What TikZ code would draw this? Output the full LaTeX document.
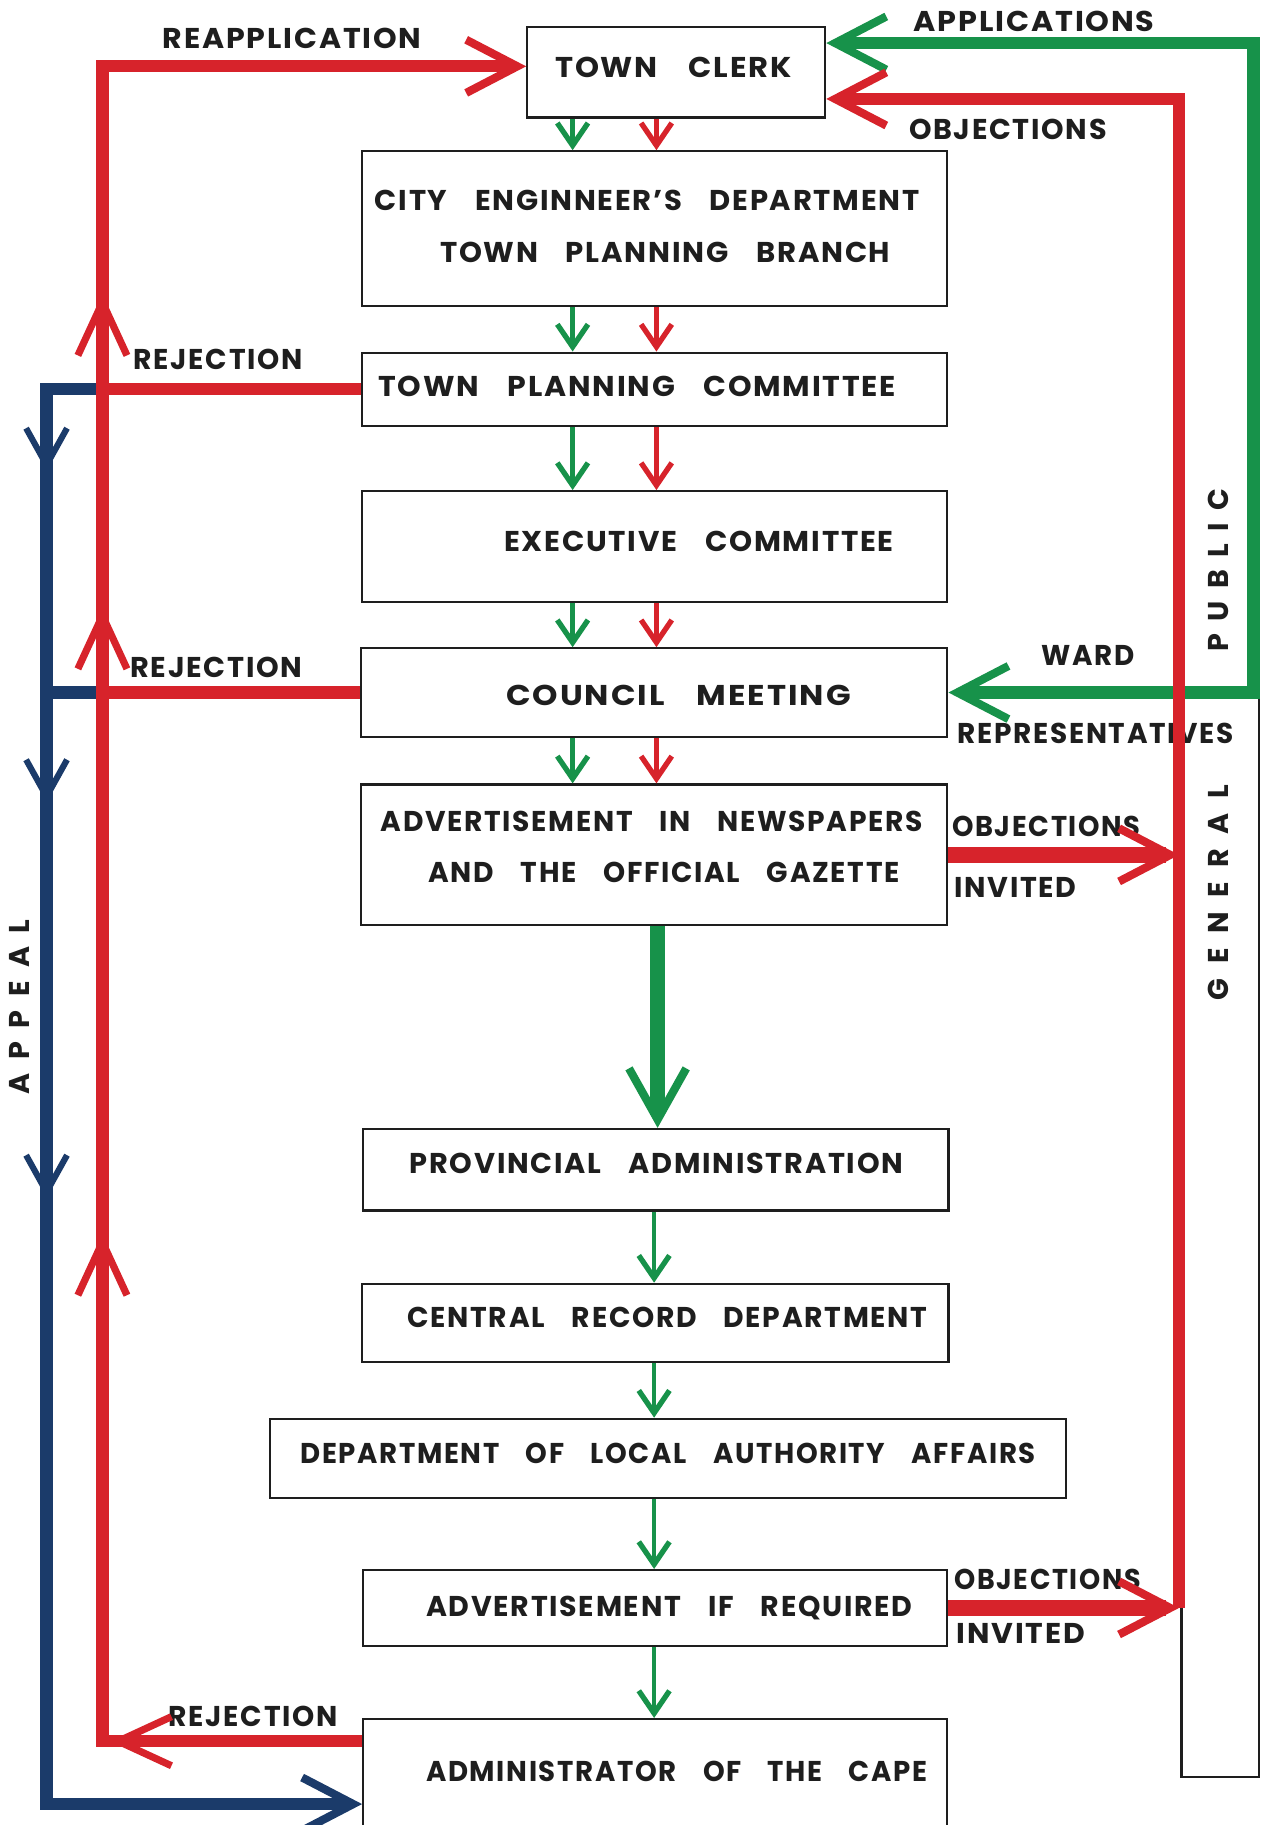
\documentclass[tikz,border=0pt]{standalone}
\usepackage{fontspec}
\setmainfont{Poppins}[LetterSpace=6, WordSpace=3.5]
\usepackage{graphicx}
\usetikzlibrary{arrows.meta, decorations.markings}
\definecolor{cred}{HTML}{D7232B}
\definecolor{cgreen}{HTML}{17924A}
\definecolor{cblue}{HTML}{1B3B6A}
\definecolor{cink}{HTML}{1E1E1E}
\newcommand\fw[2]{\resizebox{\dimexpr0.569pt*#1\relax}{\height}{#2}}
\newcommand\vspread[2]{\makebox[\dimexpr0.569pt*#1\relax][s]{#2}}
\tikzset{
  bigbarb/.tip={Straight Barb[length=25pt,width=26pt,line width=4pt]},
  chevR/.tip={Straight Barb[length=26pt,width=24pt,line width=3.5pt]},
  chevB/.tip={Straight Barb[length=18pt,width=20pt,line width=3pt]},
  smallbarb/.tip={Straight Barb[length=11pt,width=15pt,line width=2.6pt]},
  thickbarb/.tip={Straight Barb[length=25pt,width=28pt,line width=4pt]},
  box/.style={draw=cink, line width=1.1pt, fill=white, inner sep=0pt},
  txt/.style={inner sep=0pt, text=cink, text height=9.6pt, text depth=0pt,
    font=\fontsize{14}{16}\selectfont\bfseries},
  redl/.style={draw=cred, line width=6pt},
  redthick/.style={draw=cred, line width=7.5pt},
  bluel/.style={draw=cblue, line width=6pt},
  greenl/.style={draw=cgreen, line width=6pt},
  gsmall/.style={draw=cgreen, line width=2.2pt, -{smallbarb}},
  rsmall/.style={draw=cred, line width=2.2pt, -{smallbarb}},
  gthick/.style={draw=cgreen, line width=7pt, -{thickbarb}},
}
\begin{document}
\begin{tikzpicture}[x=0.02cm, y=-0.02cm]
\useasboundingbox (0,0) rectangle (1089,1568);
\clip (0,0) rectangle (1089,1568);

% ---------- boxes ----------
\node[box, minimum width=5.12cm, minimum height=1.56cm] (tc) at (581,62) {};
\node[box, minimum width=10.06cm, minimum height=2.66cm] (ce) at (562.5,196.5) {};
\node[box, minimum width=10.06cm, minimum height=1.26cm] (tpc) at (562.5,334.5) {};
\node[box, minimum width=10.06cm, minimum height=1.9cm] (ex) at (562.5,469.5) {};
\node[box, minimum width=10.08cm, minimum height=1.52cm] (cm) at (562,595) {};
\node[box, minimum width=10.08cm, minimum height=2.42cm] (adv) at (562,734.5) {};
\node[box, minimum width=10.06cm, minimum height=1.4cm] (prov) at (563.5,1005) {};
\node[box, minimum width=10.08cm, minimum height=1.34cm] (crd) at (563,1136.5) {};
\node[box, minimum width=13.68cm, minimum height=1.36cm] (dla) at (574,1253) {};
\node[box, minimum width=10.04cm, minimum height=1.3cm] (air) at (563,1381.5) {};
\node[box, minimum width=10.04cm, minimum height=2.46cm] (adm) at (563,1538.5) {};
\node[box, minimum width=1.34cm, minimum height=18.6cm] (gp) at (1048.5,1062) {};

% ---------- box texts ----------
\node[txt] (tc-t) at (578.5,58) {\fw{203}{TOWN\hspace{1em}CLERK}};
\node[txt] (ce-t1) at (556,172) {\fw{468}{CITY ENGINNEER\char"0027 S DEPARTMENT}};
\node[txt] (ce-t2) at (571.5,217) {\fw{387}{TOWN PLANNING BRANCH}};
\node[txt] (tpc-t) at (547.5,332) {\fw{445}{TOWN PLANNING COMMITTEE}};
\node[txt] (ex-t) at (600.5,465) {\fw{335}{EXECUTIVE COMMITTEE}};
\node[txt] (cm-t) at (583,598) {\fw{296}{COUNCIL\hspace{1em}MEETING}};
\node[txt] (adv-t1) at (560,706) {\fw{466}{ADVERTISEMENT IN NEWSPAPERS}};
\node[txt] (adv-t2) at (570.5,750) {\fw{405}{AND THE OFFICIAL GAZETTE}};
\node[txt] (prov-t) at (564,1000) {\fw{424}{PROVINCIAL ADMINISTRATION}};
\node[txt] (crd-t) at (573.5,1132) {\fw{447}{CENTRAL RECORD DEPARTMENT}};
\node[txt] (dla-t) at (574,1249) {\fw{632}{DEPARTMENT OF LOCAL AUTHORITY AFFAIRS}};
\node[txt] (air-t) at (575,1380) {\fw{418}{ADVERTISEMENT IF REQUIRED}};
\node[txt] (adm-t) at (581.5,1522) {\fw{431}{ADMINISTRATOR OF THE CAPE}};

% ---------- labels ----------
\node[txt] (l-reapp) at (251,33) {\fw{222}{REAPPLICATION}};
\node[txt] (l-app) at (888.5,19) {\fw{207}{APPLICATIONS}};
\node[txt] (l-obj) at (866,111) {\fw{170}{OBJECTIONS}};
\node[txt] (l-rej1) at (187.5,309) {\fw{145}{REJECTION}};
\node[txt] (l-rej2) at (186,574) {\fw{148}{REJECTION}};
\node[txt] (l-rej3) at (217.5,1475) {\fw{145}{REJECTION}};
\node[txt] (l-ward) at (935,563) {\fw{80}{WARD}};
\node[txt] (l-rep) at (941.5,630) {\fw{237}{REPRESENTATIVES}};
\node[txt] (l-obj1) at (899,710) {\fw{162}{OBJECTIONS}};
\node[txt] (l-inv1) at (872.5,763) {\fw{105}{INVITED}};
\node[txt] (l-obj2) at (900,1357) {\fw{160}{OBJECTIONS}};
\node[txt] (l-inv2) at (877,1404) {\fw{110}{INVITED}};
\node[txt, rotate=90] (l-public) at (1047,490) {\vspread{140}{P\hfill U\hfill B\hfill L\hfill I\hfill C}};
\node[txt, rotate=90] (l-general) at (1047,767) {\vspread{185}{G\hfill E\hfill N\hfill E\hfill R\hfill A\hfill L}};
\node[txt, rotate=90] (l-appeal) at (17,865) {\vspread{150}{A\hfill P\hfill P\hfill E\hfill A\hfill L}};

% ---------- helper coordinates ----------
\coordinate (gx) at (492,0);
\coordinate (rx) at (564,0);
\coordinate (mx) at (562,0);
\coordinate (tx) at (565,0);
\coordinate (rA) at (88,1496);
\coordinate (rB) at (88,57);
\coordinate (bB) at (40,1550);
\coordinate (rR) at (1013,85);
\coordinate (gR) at (1077,37);
\coordinate (j1) at (tpc.west -| rA);
\coordinate (j2) at (cm.west -| rA);

% ---------- middle arrows ----------
\foreach \a/\b in {tc/ce, ce/tpc, tpc/ex, ex/cm, cm/adv} {
  \draw[gsmall] (\a.south -| gx) -- (\b.north -| gx);
  \draw[rsmall] (\a.south -| rx) -- (\b.north -| rx);
}
\draw[gthick] (adv.south -| tx) -- (prov.north -| tx);
\foreach \a/\b in {prov/crd, crd/dla, dla/air, air/adm}
  \draw[gsmall] (\a.south -| mx) -- (\b.north -| mx);

% ---------- appeal (blue) ----------
\draw[bluel, -{bigbarb}, postaction={decorate, decoration={markings,
   mark=at position 0.0772 with {\arrow{chevB}},
   mark=at position 0.2628 with {\arrow{chevB}},
   mark=at position 0.4842 with {\arrow{chevB}}}}]
  (j1) -- (j1 -| bB) -- (bB) -- (adm.west |- bB);
\draw[bluel] (j2) -- (j2 -| bB);

% ---------- rejection / reapplication (red, left) ----------
\draw[redl] (tpc.west) -- (j1);
\draw[redl] (cm.west) -- (j2);
\draw[redl, -{bigbarb}, postaction={decorate, decoration={markings,
   mark=at position 0.107 with {\arrow{chevR}},
   mark=at position 0.3254 with {\arrow{chevR}},
   mark=at position 0.591 with {\arrow{chevR}},
   mark=at position 0.7239 with {\arrow{chevR}}}}]
  (adm.west |- rA) -- (rA) -- (rB) -- (tc.west |- rB);

% ---------- applications / ward representatives (green) ----------
\draw[greenl, {bigbarb}-{bigbarb}] (cm.east) -- (cm.east -| gR) -- (gR) -- (tc.east |- gR);

% ---------- objections (red, right) ----------
\draw[redl, -{bigbarb}] (air.east -| rR) -- (rR) -- (tc.east |- rR);
\draw[redthick, -{bigbarb}] (adv.east) -- (adv.east -| rR);
\draw[redthick, -{bigbarb}] (air.east) -- (air.east -| rR);
\end{tikzpicture}
\end{document}
